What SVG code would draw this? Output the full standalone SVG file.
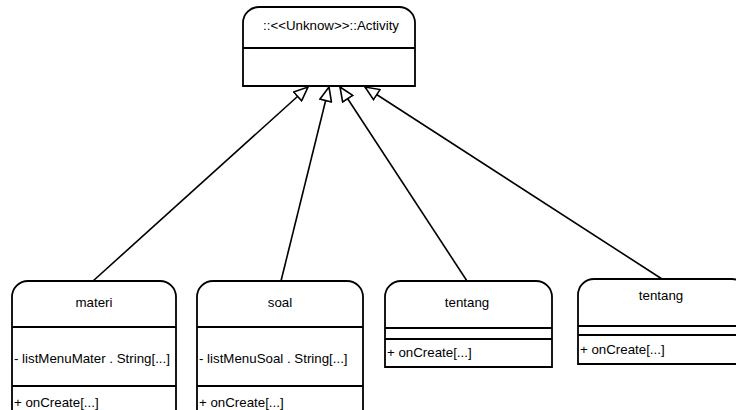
<svg xmlns="http://www.w3.org/2000/svg" width="736" height="410" viewBox="0 0 736 410">
<style>
.box{fill:#fff;stroke:#000;stroke-width:1.8}
.sep{stroke:#000;stroke-width:1.8}
.t{font-family:"Liberation Sans",Arial,sans-serif;font-size:13.3px;fill:#000}
.c{text-anchor:middle}
.edge{stroke:#000;stroke-width:1.6;fill:none;marker-end:url(#gen)}
</style>
<defs>
<marker id="gen" viewBox="0 0 16 14" refX="15" refY="7" markerWidth="16" markerHeight="14" markerUnits="userSpaceOnUse" orient="auto">
<path d="M1,1 L15,7 L1,13 Z" fill="#fff" stroke="#000" stroke-width="1.6"/>
</marker>
</defs>
<g id="connectors">
<line class="edge" x1="93" y1="281" x2="308" y2="87"/>
<line class="edge" x1="281" y1="281" x2="329" y2="87"/>
<line class="edge" x1="467" y1="281" x2="340" y2="87"/>
<line class="edge" x1="662" y1="279" x2="365" y2="87"/>
</g>
<g id="activity">
<path class="box" d="M243,86 L243,23 A16,16 0 0 1 259,7 L399,7 A16,16 0 0 1 415,23 L415,86 Z"/>
<line class="sep" x1="243" y1="48" x2="415" y2="48"/>
<text class="t c" x="331" y="30">::&lt;&lt;Unknow&gt;&gt;::Activity</text>
</g>
<g id="materi">
<path class="box" d="M12,425 L12,297 A16,16 0 0 1 28,281 L160,281 A16,16 0 0 1 176,297 L176,425 Z"/>
<line class="sep" x1="12" y1="327" x2="176" y2="327"/>
<line class="sep" x1="12" y1="386" x2="176" y2="386"/>
<text class="t c" x="94" y="307">materi</text>
<text class="t" x="14" y="363">- listMenuMater . String[...]</text>
<text class="t" x="14" y="407">+ onCreate[...]</text>
</g>
<g id="soal">
<path class="box" d="M197,425 L197,297 A16,16 0 0 1 213,281 L347,281 A16,16 0 0 1 363,297 L363,425 Z"/>
<line class="sep" x1="197" y1="327" x2="363" y2="327"/>
<line class="sep" x1="197" y1="386" x2="363" y2="386"/>
<text class="t c" x="280" y="307">soal</text>
<text class="t" x="199" y="363">- listMenuSoal . String[...]</text>
<text class="t" x="199" y="407">+ onCreate[...]</text>
</g>
<g id="tentang1">
<path class="box" d="M385,367 L385,297 A16,16 0 0 1 401,281 L536,281 A16,16 0 0 1 552,297 L552,367 Z"/>
<line class="sep" x1="385" y1="328" x2="552" y2="328"/>
<line class="sep" x1="385" y1="339" x2="552" y2="339"/>
<text class="t c" x="467" y="307">tentang</text>
<text class="t" x="387" y="357">+ onCreate[...]</text>
</g>
<g id="tentang2">
<path class="box" d="M578,364 L578,295 A16,16 0 0 1 594,279 L732,279 A16,16 0 0 1 748,295 L748,364 Z"/>
<line class="sep" x1="578" y1="326" x2="748" y2="326"/>
<line class="sep" x1="578" y1="335" x2="748" y2="335"/>
<text class="t c" x="661" y="300">tentang</text>
<text class="t" x="580" y="354">+ onCreate[...]</text>
</g>
</svg>
